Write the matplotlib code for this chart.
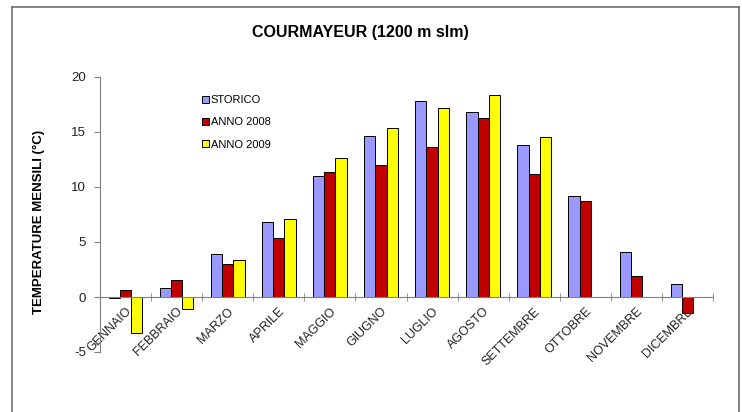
import numpy as np
import matplotlib
matplotlib.use('Agg')
import matplotlib.pyplot as plt
from matplotlib.lines import Line2D

plt.rcParams['font.family'] = ['Liberation Sans', 'DejaVu Sans']
plt.rcParams['axes.unicode_minus'] = False

############################################
mesi = ['GENNAIO', 'FEBBRAIO', 'MARZO', 'APRILE', 'MAGGIO', 'GIUGNO',
        'LUGLIO', 'AGOSTO', 'SETTEMBRE', 'OTTOBRE', 'NOVEMBRE', 'DICEMBRE']
storico = [-0.1, 0.8, 3.9, 6.85, 11.0, 14.65, 17.8, 16.8, 13.85, 9.2, 4.05, 1.2]
anno2008 = [0.65, 1.55, 3.0, 5.4, 11.35, 12.0, 13.6, 16.3, 11.15, 8.75, 1.9, -1.45]
anno2009 = [-3.3, -1.05, 3.35, 7.1, 12.6, 15.4, 17.2, 18.35, 14.5, np.nan, np.nan, np.nan]
serie = ['STORICO', 'ANNO 2008', 'ANNO 2009']
colori = ['#9999FF', '#C00000', '#FFFF00']
############################################

fig = plt.figure(figsize=(7.42, 4.12), dpi=100)
ax = fig.add_axes([100/742, 1-352/412, 613/742, 275/412])

x = np.arange(len(mesi))
w = 0.22
for i, (vals, lab, col) in enumerate(zip([storico, anno2008, anno2009], serie, colori)):
    ax.bar(x + (i-1)*w, vals, w, color=col, edgecolor='black', linewidth=0.7, label=lab, zorder=3)

ax.set_xlim(-0.5, 11.5)
ax.set_ylim(-5, 20)
ax.set_yticks([-5, 0, 5, 10, 15, 20])

for s in ['top', 'right']:
    ax.spines[s].set_visible(False)
ax.spines['bottom'].set_position(('data', 0))
ax.spines['bottom'].set_color('#808080')
ax.spines['left'].set_color('#808080')
ax.spines['bottom'].set_zorder(4)

ax.set_xticks(x)
ax.set_xticklabels(mesi, rotation=45, ha='right', rotation_mode='anchor', fontsize=9, color='#222222')
ax.set_xticks(np.arange(-0.5, 12, 1), minor=True)
ax.tick_params(axis='x', which='major', length=0, pad=6)
ax.tick_params(axis='x', which='minor', length=6, direction='inout', color='#808080')
ax.tick_params(axis='y', length=4, direction='out', color='#808080', labelsize=9.5, labelcolor='#222222', pad=6)

ax.set_ylabel('TEMPERATURE MENSILI (°C)', fontsize=9.5, fontweight='bold')
ax.yaxis.set_label_coords(-0.0897, 0.473)
fig.text(360/742, 1-32/412, 'COURMAYEUR (1200 m slm)', ha='center', va='center',
         fontsize=11.5, fontweight='bold')

leg = ax.legend(loc='upper left', bbox_to_anchor=(0.15, 0.97), frameon=False, fontsize=8,
                handlelength=0.6, handleheight=0.6, handletextpad=0.2, labelspacing=1.1)

# cornice esterna
for xs, ys in [([12/742, 739/742], [1-7/412, 1-7/412]),
               ([12/742, 12/742], [0, 1-7/412]),
               ([739/742, 739/742], [0, 1-7/412])]:
    fig.add_artist(Line2D(xs, ys, transform=fig.transFigure, color='#707070', linewidth=1.2))

plt.savefig('out.png', dpi=100)
